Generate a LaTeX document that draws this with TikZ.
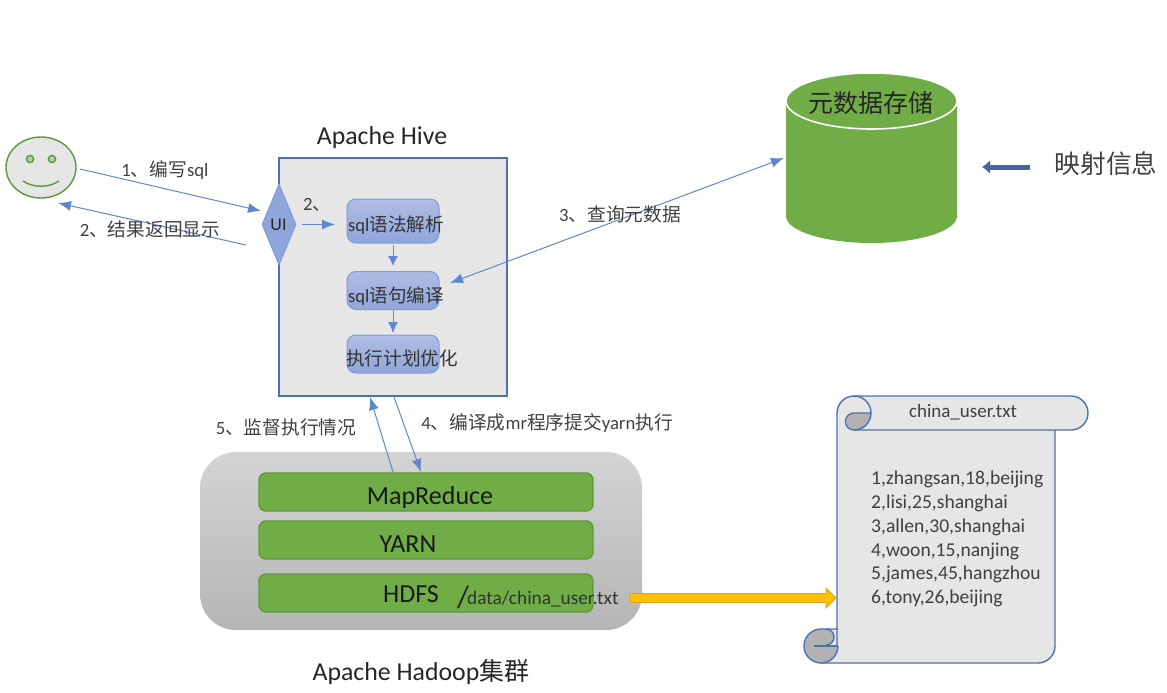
\documentclass[tikz,border=0pt]{standalone}
\usepackage{fontspec}
\setmainfont{Carlito}
\newfontfamily\cjkfont{Noto Sans CJK SC}
\newcommand{\zh}[1]{{\cjkfont #1}}
\newcommand{\fs}[1]{\fontsize{#1}{#1}\selectfont}
\usetikzlibrary{shapes.geometric,arrows.meta,calc}
\definecolor{hiveedge}{HTML}{4A72B0}
\definecolor{arrowblue}{HTML}{4472C4}
\definecolor{stepedge}{HTML}{7E9BD8}
\definecolor{steptop}{HTML}{AFBDE3}
\definecolor{stepbot}{HTML}{8FA6DA}
\definecolor{panel}{HTML}{E6E6E6}
\definecolor{leaf}{HTML}{70AD47}
\definecolor{leafedge}{HTML}{5B9A3A}
\definecolor{labelgray}{HTML}{404040}
\definecolor{goldfill}{HTML}{FFC000}
\definecolor{goldedge}{HTML}{D9A520}
\tikzset{
  flow/.style={draw=arrowblue!85,line width=1pt,-{Latex[length=13pt,width=10pt]}},
  flowboth/.style={draw=arrowblue!85,line width=1pt,{Latex[length=13pt,width=10pt]}-{Latex[length=13pt,width=10pt]}},
  stepbox/.style={draw=stepedge,line width=1pt,rounded corners=9pt,top color=steptop,bottom color=stepbot,minimum width=92pt,inner sep=0pt},
  greenbar/.style={draw=leafedge,line width=1.4pt,fill=leaf,rounded corners=7pt,minimum width=334pt,minimum height=38pt,inner sep=0pt},
  lab/.style={text=labelgray,font=\fs{18.7},inner sep=0pt},
  title/.style={text=black!85,font=\fs{25.8},inner sep=0pt},
  inbox/.style={text=black!80,font=\fs{18.6},inner sep=0pt},
  barlab/.style={text=black!90,font=\fs{26},inner sep=0pt},
  scrollline/.style={draw=hiveedge,line width=1.4pt},
}
\begin{document}
\begin{tikzpicture}[x=1pt,y=-1pt]
\useasboundingbox (0,0) rectangle (1167,693);
% user
\node[ellipse,draw=leafedge,line width=1.4pt,fill=panel,minimum width=70pt,minimum height=61pt,inner sep=0pt] (face) at (41,167.5) {};
\draw[draw=leafedge,line width=1.4pt,fill=panel!60!leaf] (30,159) circle (3.6);
\draw[draw=leafedge,line width=1.4pt,fill=panel!60!leaf] (52,159) circle (3.6);
\draw[draw=leafedge,line width=1.4pt] (23,181) .. controls (33,188) and (49,188) .. (59,181);
% hive
\node[draw=hiveedge,line width=2pt,fill=panel,minimum width=228pt,minimum height=238pt,inner sep=0pt] (hive) at (393,277) {};
\node[title] (hivet) at (382,137.5) {Apache Hive};
\node[diamond,draw=stepedge,line width=1pt,fill=stepbot,minimum width=34pt,minimum height=81pt,aspect=0.42,inner sep=0pt] (ui) at (279,224.5) {};
\node[inbox,text=black!85,font=\fs{18}] at (278.5,224.5) (uit) {UI};
\node[stepbox,minimum height=44pt] (parse) at (393,221) {};
\node[stepbox,minimum height=38pt] (compile) at (393,290.5) {};
\node[stepbox,minimum height=38pt] (optim) at (393,354) {};
\node[inbox] (parset) at (396,225) {sql\zh{语法解析}};
\node[inbox] (compilet) at (396,296) {sql\zh{语句编译}};
\node[inbox] (optimt) at (402,358) {\zh{执行计划优化}};
% metastore
\fill[leaf] (786,100) -- (786,216) arc[start angle=180,end angle=0,x radius=85.5,y radius=27] -- (957,100) -- cycle;
\draw[white,line width=1.6pt,fill=leaf] (871.5,101) ellipse[x radius=85.5,y radius=28];
\node[inner sep=0pt,text=black!85,font=\fs{25}\cjkfont] (meta) at (870.5,103) {元数据存储};
\coordinate (metain) at (784,158);
\node[inner sep=0pt,text=labelgray,font=\fs{25.7}\cjkfont] (map) at (1106,164) {映射信息};
\coordinate (mapa) at (1030,167);
\coordinate (mapb) at (982,167);
\draw[draw=hiveedge!90!black,line width=5pt,-{Latex[length=8pt,width=14pt]}] (mapa) -- (mapb);
% hadoop
\node[rounded corners=36pt,minimum width=442pt,minimum height=178pt,inner sep=0pt,top color=black!17,bottom color=black!29] (cluster) at (421,541) {};
\node[greenbar] (mr) at (426,492) {};
\node[greenbar] (yarn) at (426,540) {};
\node[greenbar] (hdfs) at (426,593) {};
\node[barlab] (mrt) at (430,498) {MapReduce};
\node[barlab] (yarnt) at (408,544) {YARN};
\node[barlab] (hdfst) at (411,594) {HDFS};
\node[inner sep=0pt,text=black!85,font=\fs{31}] (slash) at (463,597) {/};
\node[inner sep=0pt,anchor=west,text=black!80,font=\fs{19.3}] (path) at (467,599) {data/china\_user.txt};
\node[title] (hadoopt) at (421,672) {Apache Hadoop\zh{\fs{25}集群}};
% scroll
\path[fill=panel] (855,396) -- (1071,396) arc[start angle=-90,end angle=90,radius=17] -- (1055,430) -- (1055,646) arc[start angle=0,end angle=90,radius=17] -- (821,663) arc[start angle=90,end angle=270,radius=17] -- (837,629) -- (837,413) arc[start angle=180,end angle=270,radius=17] -- cycle;
\path[fill=black!30] (871,413) -- (855,413) arc[start angle=-90,end angle=-270,radius=8.5] -- (854,430) arc[start angle=90,end angle=0,radius=17] -- cycle;
\path[fill=black!30] (821,629) arc[start angle=270,end angle=90,radius=17] arc[start angle=90,end angle=0,radius=17] -- (838,629) -- cycle;
\path[fill=panel] (826,629) -- (838,629) -- (838,645) -- (826,645) arc[start angle=90,end angle=-90,radius=8] -- cycle;
\draw[scrollline] (854,430) -- (1071,430) arc[start angle=90,end angle=-90,radius=17] -- (854,396) arc[start angle=270,end angle=180,radius=17] -- (837,646);
\draw[scrollline] (1055,430) -- (1055,646) arc[start angle=0,end angle=90,radius=17] -- (821,663) arc[start angle=90,end angle=270,radius=17] -- (838,629);
\draw[scrollline] (854,396) arc[start angle=-90,end angle=90,radius=17] arc[start angle=90,end angle=270,radius=8.5] -- (871,413);
\draw[scrollline] (821,663) arc[start angle=90,end angle=0,radius=17];
\draw[scrollline] (814,646) -- (838,646);
\draw[scrollline] (826,645) arc[start angle=90,end angle=-90,radius=8];
\node[inner sep=0pt,text=labelgray,font=\fs{19}] (scrollt) at (963,412) {china\_user.txt};
\node[inner sep=0pt,anchor=west,align=left,text=labelgray,font=\fontsize{19.6}{23.8}\selectfont] (scrollb) at (871,539) {1,zhangsan,18,beijing\\2,lisi,25,shanghai\\3,allen,30,shanghai\\4,woon,15,nanjing\\5,james,45,hangzhou\\6,tony,26,beijing};
% connectors
\coordinate (f1) at (80,169);
\coordinate (u1) at (261,211);
\coordinate (u2) at (246,245);
\coordinate (f2) at (58,203);
\coordinate (ui3) at (302,224.5);
\coordinate (p1) at (335,224.5);
\coordinate (p2) at (393,245);
\coordinate (c1) at (393,266);
\coordinate (o1) at (393,333);
\coordinate (c2) at (450,283);
\coordinate (h1) at (370,397);
\coordinate (m1) at (393,472);
\coordinate (h2) at (394,397);
\coordinate (m2) at (421,472);
\draw[flow] (f1) -- (u1);
\draw[flow] (u2) -- (f2);
\draw[flow] (ui3) -- (p1);
\draw[flow,-{Latex[length=10pt,width=10pt]}] (p2) -- (c1);
\draw[flow,-{Latex[length=11pt,width=10pt]}] (compile.south) -- (o1);
\draw[flowboth] (metain) -- (c2);
\draw[flow] (m1) -- (h1);
\draw[flow] (h2) -- (m2);
% connector labels
\node[lab] (l1) at (165,170) {1\zh{、编写}sql};
\node[lab] (l2) at (150,229) {2\zh{、结果返回显示}};
\node[lab,anchor=west] (l3) at (303,205) {2\zh{、}};
\node[lab] (l4) at (620,214) {3\zh{、查询元数据}};
\node[lab] (l5) at (286,427) {5\zh{、监督执行情况}};
\node[lab] (l6) at (547,423) {4\zh{、编译成}mr\zh{程序提交}yarn\zh{执行}};
% yellow arrow
\coordinate (ya) at (630,598);
\coordinate (yb) at (836,598);
\path[draw=goldedge,line width=.8pt,fill=goldfill] (ya) ++(0,-4.5) -- ($(yb)+(-10,-4.5)$) -- ($(yb)+(-10,-10)$) -- (yb) -- ($(yb)+(-10,10)$) -- ($(yb)+(-10,4.5)$) -- ($(ya)+(0,4.5)$) -- cycle;
\end{tikzpicture}
\end{document}
